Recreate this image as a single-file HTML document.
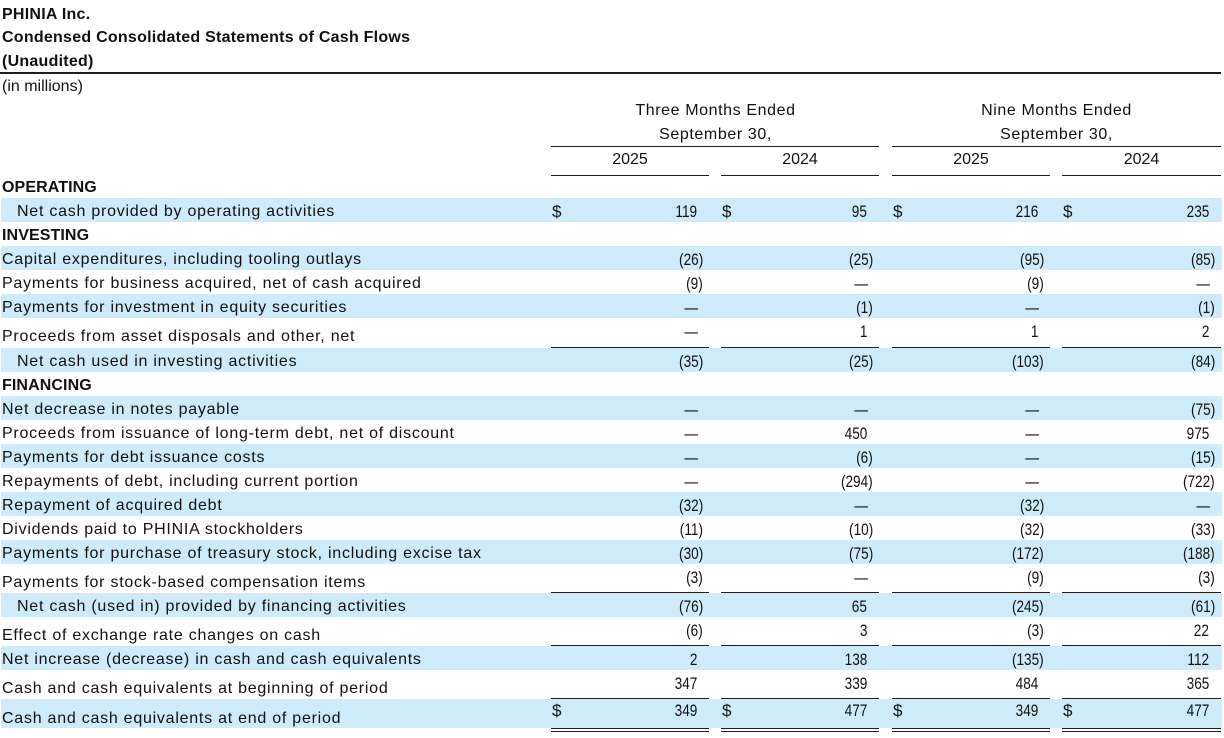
<!DOCTYPE html>
<html>
<head>
<meta charset="utf-8">
<style>
html,body{margin:0;padding:0;background:#fff;}
#pg{position:relative;width:1224px;height:738px;overflow:hidden;background:#fff;color:#111;font-family:"Liberation Sans",sans-serif;}
.t{position:absolute;left:2px;font-weight:bold;font-size:16px;line-height:24px;letter-spacing:0.25px;white-space:nowrap;}
.h{position:absolute;font-size:16px;line-height:24px;letter-spacing:0.6px;white-space:nowrap;text-align:center;}
.bl{position:absolute;left:1px;width:1221px;background:#cdebfa;}
.ln{position:absolute;height:1px;background:#1e1e1e;}
.row{position:absolute;left:0;width:1224px;height:24px;}
.lab{position:absolute;left:2px;top:2px;font-size:16px;line-height:24px;letter-spacing:0.75px;white-space:nowrap;}
.ind{left:17px;}
.sec{font-weight:bold;letter-spacing:0.1px;}
.v{position:absolute;top:2px;font-size:17px;line-height:24px;white-space:nowrap;text-align:right;transform:scaleX(0.8);transform-origin:right center;}
.c1{right:527px}.c2{right:357px}.c3{right:186px}.c4{right:15px}
.c1.p{right:521px}.c2.p{right:351px}.c3.p{right:180px}.c4.p{right:9px}
.c1.d{right:526px}.c2.d{right:356px}.c3.d{right:185px}.c4.d{right:14px}
.ds{position:absolute;top:2px;font-size:17px;line-height:24px;}
.s1{left:552px}.s2{left:722px}.s3{left:893px}.s4{left:1063px}
.tall .lab{top:7px}
.end .lab{top:8px}
.end .v,.end .ds{top:0px}
</style>
</head>
<body>
<div id="pg">
<div class="t" style="top:3px">PHINIA Inc.</div>
<div class="t" style="top:26px">Condensed Consolidated Statements of Cash Flows</div>
<div class="t" style="top:50px">(Unaudited)</div>
<div class="ln" style="top:72px;left:0;width:1221px;height:1.5px"></div>
<div class="lab" style="top:75px;letter-spacing:0">(in millions)</div>

<div class="h" style="top:99px;left:551px;width:329px">Three Months Ended</div>
<div class="h" style="top:123px;left:551px;width:329px">September 30,</div>
<div class="h" style="top:99px;left:892px;width:329px">Nine Months Ended</div>
<div class="h" style="top:123px;left:892px;width:329px">September 30,</div>
<div class="ln" style="top:146px;left:551px;width:328px"></div>
<div class="ln" style="top:146px;left:892px;width:329px"></div>
<div class="h" style="top:148px;left:551px;width:158px;letter-spacing:0">2025</div>
<div class="h" style="top:148px;left:721px;width:158px;letter-spacing:0">2024</div>
<div class="h" style="top:148px;left:892px;width:158px;letter-spacing:0">2025</div>
<div class="h" style="top:148px;left:1062px;width:159px;letter-spacing:0">2024</div>
<div class="ln" style="top:175px;left:551px;width:158px"></div>
<div class="ln" style="top:175px;left:721px;width:158px"></div>
<div class="ln" style="top:175px;left:892px;width:158px"></div>
<div class="ln" style="top:175px;left:1062px;width:159px"></div>

<!-- blue bands -->
<div class="bl" style="top:198px;height:24px"></div>
<div class="bl" style="top:246px;height:24px"></div>
<div class="bl" style="top:294px;height:24px"></div>
<div class="bl" style="top:348px;height:24px"></div>
<div class="bl" style="top:396px;height:24px"></div>
<div class="bl" style="top:444px;height:24px"></div>
<div class="bl" style="top:492px;height:24px"></div>
<div class="bl" style="top:540px;height:24px"></div>
<div class="bl" style="top:593px;height:24px"></div>
<div class="bl" style="top:646px;height:24px"></div>
<div class="bl" style="top:699px;height:29px"></div>

<!-- rule lines -->
<div class="ln" style="top:347px;left:551px;width:158px"></div>
<div class="ln" style="top:347px;left:721px;width:158px"></div>
<div class="ln" style="top:347px;left:892px;width:158px"></div>
<div class="ln" style="top:347px;left:1062px;width:159px"></div>

<div class="ln" style="top:592px;left:551px;width:158px"></div>
<div class="ln" style="top:592px;left:721px;width:158px"></div>
<div class="ln" style="top:592px;left:892px;width:158px"></div>
<div class="ln" style="top:592px;left:1062px;width:159px"></div>

<div class="ln" style="top:645px;left:551px;width:158px"></div>
<div class="ln" style="top:645px;left:721px;width:158px"></div>
<div class="ln" style="top:645px;left:892px;width:158px"></div>
<div class="ln" style="top:645px;left:1062px;width:159px"></div>

<div class="ln" style="top:698px;left:551px;width:158px"></div>
<div class="ln" style="top:698px;left:721px;width:158px"></div>
<div class="ln" style="top:698px;left:892px;width:158px"></div>
<div class="ln" style="top:698px;left:1062px;width:159px"></div>

<div class="ln" style="top:728px;left:551px;width:158px"></div>
<div class="ln" style="top:728px;left:721px;width:158px"></div>
<div class="ln" style="top:728px;left:892px;width:158px"></div>
<div class="ln" style="top:728px;left:1062px;width:159px"></div>
<div class="ln" style="top:731px;left:551px;width:158px"></div>
<div class="ln" style="top:731px;left:721px;width:158px"></div>
<div class="ln" style="top:731px;left:892px;width:158px"></div>
<div class="ln" style="top:731px;left:1062px;width:159px"></div>

<!-- rows -->
<div class="row" style="top:174px"><div class="lab sec">OPERATING</div></div>

<div class="row" style="top:198px"><div class="lab ind">Net cash provided by operating activities</div>
<div class="ds s1">$</div><div class="v c1">119</div>
<div class="ds s2">$</div><div class="v c2">95</div>
<div class="ds s3">$</div><div class="v c3">216</div>
<div class="ds s4">$</div><div class="v c4">235</div></div>

<div class="row" style="top:222px"><div class="lab sec">INVESTING</div></div>

<div class="row" style="top:246px"><div class="lab">Capital expenditures, including tooling outlays</div>
<div class="v c1 p">(26)</div><div class="v c2 p">(25)</div><div class="v c3 p">(95)</div><div class="v c4 p">(85)</div></div>

<div class="row" style="top:270px"><div class="lab">Payments for business acquired, net of cash acquired</div>
<div class="v c1 p">(9)</div><div class="v c2 d">—</div><div class="v c3 p">(9)</div><div class="v c4 d">—</div></div>

<div class="row" style="top:294px"><div class="lab">Payments for investment in equity securities</div>
<div class="v c1 d">—</div><div class="v c2 p">(1)</div><div class="v c3 d">—</div><div class="v c4 p">(1)</div></div>

<div class="row tall" style="top:318px"><div class="lab">Proceeds from asset disposals and other, net</div>
<div class="v c1 d">—</div><div class="v c2">1</div><div class="v c3">1</div><div class="v c4">2</div></div>

<div class="row" style="top:348px"><div class="lab ind">Net cash used in investing activities</div>
<div class="v c1 p">(35)</div><div class="v c2 p">(25)</div><div class="v c3 p">(103)</div><div class="v c4 p">(84)</div></div>

<div class="row" style="top:372px"><div class="lab sec">FINANCING</div></div>

<div class="row" style="top:396px"><div class="lab">Net decrease in notes payable</div>
<div class="v c1 d">—</div><div class="v c2 d">—</div><div class="v c3 d">—</div><div class="v c4 p">(75)</div></div>

<div class="row" style="top:420px"><div class="lab">Proceeds from issuance of long-term debt, net of discount</div>
<div class="v c1 d">—</div><div class="v c2">450</div><div class="v c3 d">—</div><div class="v c4">975</div></div>

<div class="row" style="top:444px"><div class="lab">Payments for debt issuance costs</div>
<div class="v c1 d">—</div><div class="v c2 p">(6)</div><div class="v c3 d">—</div><div class="v c4 p">(15)</div></div>

<div class="row" style="top:468px"><div class="lab">Repayments of debt, including current portion</div>
<div class="v c1 d">—</div><div class="v c2 p">(294)</div><div class="v c3 d">—</div><div class="v c4 p">(722)</div></div>

<div class="row" style="top:492px"><div class="lab">Repayment of acquired debt</div>
<div class="v c1 p">(32)</div><div class="v c2 d">—</div><div class="v c3 p">(32)</div><div class="v c4 d">—</div></div>

<div class="row" style="top:516px"><div class="lab">Dividends paid to PHINIA stockholders</div>
<div class="v c1 p">(11)</div><div class="v c2 p">(10)</div><div class="v c3 p">(32)</div><div class="v c4 p">(33)</div></div>

<div class="row" style="top:540px"><div class="lab">Payments for purchase of treasury stock, including excise tax</div>
<div class="v c1 p">(30)</div><div class="v c2 p">(75)</div><div class="v c3 p">(172)</div><div class="v c4 p">(188)</div></div>

<div class="row tall" style="top:564px"><div class="lab">Payments for stock-based compensation items</div>
<div class="v c1 p">(3)</div><div class="v c2 d">—</div><div class="v c3 p">(9)</div><div class="v c4 p">(3)</div></div>

<div class="row" style="top:593px"><div class="lab ind">Net cash (used in) provided by financing activities</div>
<div class="v c1 p">(76)</div><div class="v c2">65</div><div class="v c3 p">(245)</div><div class="v c4 p">(61)</div></div>

<div class="row tall" style="top:617px"><div class="lab">Effect of exchange rate changes on cash</div>
<div class="v c1 p">(6)</div><div class="v c2">3</div><div class="v c3 p">(3)</div><div class="v c4">22</div></div>

<div class="row" style="top:646px"><div class="lab">Net increase (decrease) in cash and cash equivalents</div>
<div class="v c1">2</div><div class="v c2">138</div><div class="v c3 p">(135)</div><div class="v c4">112</div></div>

<div class="row tall" style="top:670px"><div class="lab">Cash and cash equivalents at beginning of period</div>
<div class="v c1">347</div><div class="v c2">339</div><div class="v c3">484</div><div class="v c4">365</div></div>

<div class="row end" style="top:699px"><div class="lab">Cash and cash equivalents at end of period</div>
<div class="ds s1">$</div><div class="v c1">349</div>
<div class="ds s2">$</div><div class="v c2">477</div>
<div class="ds s3">$</div><div class="v c3">349</div>
<div class="ds s4">$</div><div class="v c4">477</div></div>
</div>
</body>
</html>
